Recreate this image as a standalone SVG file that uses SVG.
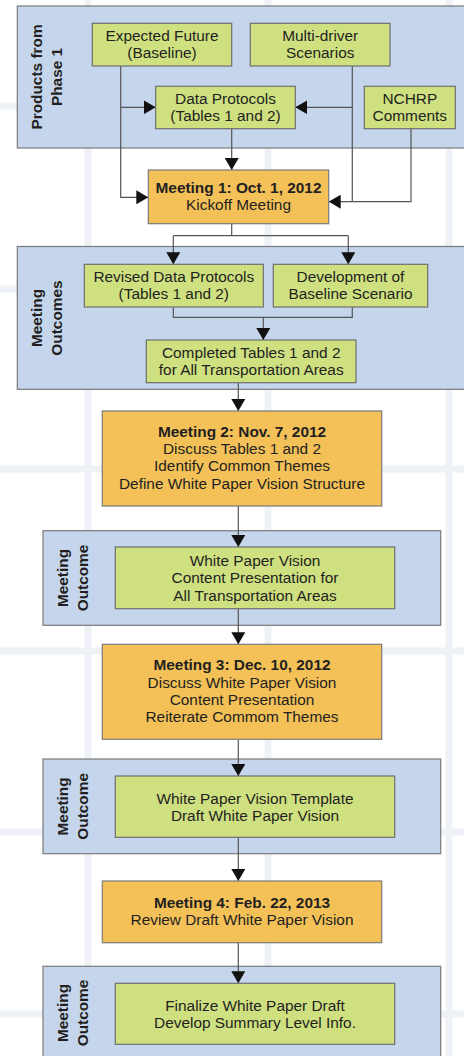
<svg xmlns="http://www.w3.org/2000/svg" width="464" height="1056" viewBox="0 0 464 1056">
<style>
.bg{fill:#ffffff}
.grid{stroke:#eef1f5;stroke-width:7;fill:none}
.panel{fill:#c5d6ec;stroke:#7a7a7a;stroke-width:1.2}
.green{fill:#cfe080;stroke:#6e6e6e;stroke-width:1.2}
.orange{fill:#f3c158;stroke:#7a7a7a;stroke-width:1.2}
text{font-family:"Liberation Sans",Arial,Helvetica,sans-serif;font-size:15.4px;fill:#231f20;text-anchor:middle}
.b{font-weight:bold}
.conn{stroke:#555555;stroke-width:1.2;fill:none}
</style>
<defs>
<marker id="ah" markerUnits="userSpaceOnUse" markerWidth="12" markerHeight="14" viewBox="0 0 12 14" refX="12" refY="7" orient="auto">
<path d="M0,0 L12,7 L0,14 z" fill="#111111"/>
</marker>
</defs>
<rect class="bg" x="0" y="0" width="464" height="1056"/>
<g id="grid">
<line class="grid" x1="88" y1="0" x2="88" y2="1056"/>
<line class="grid" x1="268" y1="0" x2="268" y2="1056"/>
<line class="grid" x1="449" y1="0" x2="449" y2="1056"/>
<line class="grid" x1="0" y1="106" x2="464" y2="106"/>
<line class="grid" x1="0" y1="289" x2="464" y2="289"/>
<line class="grid" x1="0" y1="469" x2="464" y2="469"/>
<line class="grid" x1="0" y1="651" x2="464" y2="651"/>
<line class="grid" x1="0" y1="832" x2="464" y2="832"/>
<line class="grid" x1="0" y1="1014" x2="464" y2="1014"/>
</g>

<g id="panel1">
<rect class="panel" x="17.3" y="6" width="460" height="142"/>
<text class="b" transform="translate(42,77) rotate(-90)">Products from</text>
<text class="b" transform="translate(62,77) rotate(-90)">Phase 1</text>
</g>
<g id="panel2">
<rect class="panel" x="17.3" y="246.5" width="460" height="142.8"/>
<text class="b" transform="translate(42,318) rotate(-90)">Meeting</text>
<text class="b" transform="translate(62,318) rotate(-90)">Outcomes</text>
</g>
<g id="panel3">
<rect class="panel" x="43" y="530.7" width="397.7" height="94.6"/>
<text class="b" transform="translate(67.5,578) rotate(-90)">Meeting</text>
<text class="b" transform="translate(88,578) rotate(-90)">Outcome</text>
</g>
<g id="panel4">
<rect class="panel" x="43" y="759" width="397.7" height="94.7"/>
<text class="b" transform="translate(67.5,806.4) rotate(-90)">Meeting</text>
<text class="b" transform="translate(88,806.4) rotate(-90)">Outcome</text>
</g>
<g id="panel5">
<rect class="panel" x="43" y="966.3" width="397.7" height="100"/>
<text class="b" transform="translate(67.5,1013) rotate(-90)">Meeting</text>
<text class="b" transform="translate(88,1013) rotate(-90)">Outcome</text>
</g>

<g id="connectors">
<polyline class="conn" points="120.7,66 120.7,197.3 148.3,197.3" marker-end="url(#ah)"/>
<polyline class="conn" points="120.7,107.3 155.7,107.3" marker-end="url(#ah)"/>
<polyline class="conn" points="352.3,66 352.3,201.7"/>
<polyline class="conn" points="352.3,107.3 295.3,107.3" marker-end="url(#ah)"/>
<polyline class="conn" points="411,128.7 411,201.7 328.7,201.7" marker-end="url(#ah)"/>
<polyline class="conn" points="231.7,128.7 231.7,170" marker-end="url(#ah)"/>
<polyline class="conn" points="231.7,223.7 231.7,235.7"/>
<polyline class="conn" points="173.3,235.7 348.3,235.7"/>
<polyline class="conn" points="173.3,235.7 173.3,264.3" marker-end="url(#ah)"/>
<polyline class="conn" points="348.3,235.7 348.3,264.3" marker-end="url(#ah)"/>
<polyline class="conn" points="173.3,307 173.3,317.3 352.3,317.3 352.3,307"/>
<polyline class="conn" points="263.3,317.3 263.3,340" marker-end="url(#ah)"/>
<polyline class="conn" points="238.3,382.7 238.3,411" marker-end="url(#ah)"/>
<polyline class="conn" points="238.3,506 238.3,547" marker-end="url(#ah)"/>
<polyline class="conn" points="238.3,608.7 238.3,644.3" marker-end="url(#ah)"/>
<polyline class="conn" points="238.3,739.3 238.3,776" marker-end="url(#ah)"/>
<polyline class="conn" points="238.3,837.3 238.3,881" marker-end="url(#ah)"/>
<polyline class="conn" points="238.3,942.7 238.3,983.3" marker-end="url(#ah)"/>
</g>

<g id="expected-future">
<rect class="green" x="92.3" y="23.3" width="139.4" height="42.7"/>
<text x="162" y="40.7">Expected Future</text>
<text x="162" y="57.9">(Baseline)</text>
</g>
<g id="multi-driver">
<rect class="green" x="250.3" y="23.3" width="139.7" height="42.7"/>
<text x="320.2" y="40.7">Multi-driver</text>
<text x="320.2" y="57.9">Scenarios</text>
</g>
<g id="data-protocols">
<rect class="green" x="155.7" y="86.3" width="139.6" height="42.4"/>
<text x="225.5" y="103.5">Data Protocols</text>
<text x="225.5" y="120.7">(Tables 1 and 2)</text>
</g>
<g id="nchrp">
<rect class="green" x="364.3" y="86.3" width="91" height="42.4"/>
<text x="409.8" y="103.5">NCHRP</text>
<text x="409.8" y="120.7">Comments</text>
</g>
<g id="meeting1">
<rect class="orange" x="148.3" y="170" width="180.4" height="53.7"/>
<text class="b" x="238.5" y="193">Meeting 1: Oct. 1, 2012</text>
<text x="238.5" y="210.2">Kickoff Meeting</text>
</g>
<g id="revised-data-protocols">
<rect class="green" x="84.3" y="264.3" width="179" height="42.7"/>
<text x="173.8" y="282">Revised Data Protocols</text>
<text x="173.8" y="299.2">(Tables 1 and 2)</text>
</g>
<g id="baseline-scenario">
<rect class="green" x="273.3" y="264.3" width="154.4" height="42.7"/>
<text x="350.5" y="282">Development of</text>
<text x="350.5" y="299.2">Baseline Scenario</text>
</g>
<g id="completed-tables">
<rect class="green" x="146.3" y="340" width="209.7" height="42.7"/>
<text x="251.2" y="357.6">Completed Tables 1 and 2</text>
<text x="251.2" y="374.8">for All Transportation Areas</text>
</g>
<g id="meeting2">
<rect class="orange" x="102.3" y="411" width="279.4" height="95"/>
<text class="b" x="242" y="437">Meeting 2: Nov. 7, 2012</text>
<text x="242" y="454.2">Discuss Tables 1 and 2</text>
<text x="242" y="471.4">Identify Common Themes</text>
<text x="242" y="488.6">Define White Paper Vision Structure</text>
</g>
<g id="outcome2">
<rect class="green" x="115.3" y="547" width="279.4" height="61.7"/>
<text x="255" y="566.2">White Paper Vision</text>
<text x="255" y="583.4">Content Presentation for</text>
<text x="255" y="600.6">All Transportation Areas</text>
</g>
<g id="meeting3">
<rect class="orange" x="102.3" y="644.3" width="279.4" height="95"/>
<text class="b" x="242" y="670.3">Meeting 3: Dec. 10, 2012</text>
<text x="242" y="687.5">Discuss White Paper Vision</text>
<text x="242" y="704.7">Content Presentation</text>
<text x="242" y="721.9">Reiterate Commom Themes</text>
</g>
<g id="outcome3">
<rect class="green" x="115.3" y="776" width="279.4" height="61.3"/>
<text x="255" y="803.6">White Paper Vision Template</text>
<text x="255" y="820.8">Draft White Paper Vision</text>
</g>
<g id="meeting4">
<rect class="orange" x="102.3" y="881" width="279.4" height="61.7"/>
<text class="b" x="242" y="908">Meeting 4: Feb. 22, 2013</text>
<text x="242" y="925.2">Review Draft White Paper Vision</text>
</g>
<g id="outcome4">
<rect class="green" x="115.3" y="983.3" width="279.4" height="61"/>
<text x="255" y="1010.6">Finalize White Paper Draft</text>
<text x="255" y="1027.8">Develop Summary Level Info.</text>
</g>
</svg>
